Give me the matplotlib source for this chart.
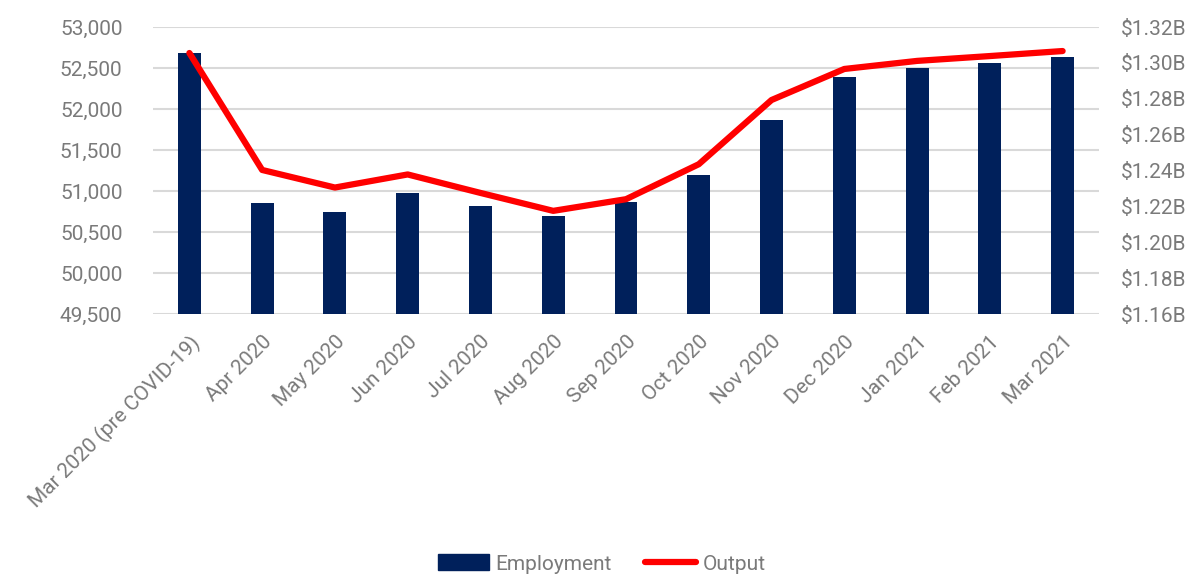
import matplotlib
matplotlib.use("Agg")
import matplotlib.pyplot as plt
from matplotlib.ticker import FuncFormatter, MultipleLocator
from matplotlib.patches import Patch
from matplotlib.lines import Line2D

categories = ["Mar 2020 (pre COVID-19)", "Apr 2020", "May 2020", "Jun 2020", "Jul 2020",
              "Aug 2020", "Sep 2020", "Oct 2020", "Nov 2020", "Dec 2020",
              "Jan 2021", "Feb 2021", "Mar 2021"]
employment = [52680, 50850, 50740, 50970, 50820, 50690, 50860, 51200, 51860, 52390, 52500, 52560, 52640]
output_b = [1.3055, 1.2403, 1.2305, 1.2378, 1.2275, 1.2175, 1.2240, 1.2435, 1.2793, 1.2966, 1.3011, 1.3038, 1.3066]

plt.rcParams['font.family'] = ['Roboto', 'DejaVu Sans']
text_color = "#7a7a7a"
navy = "#00205b"
red = "#ff0000"
grid_c = "#d9d9d9"
fs = 15

fig = plt.figure(figsize=(11.92, 5.76), dpi=100)
ax = fig.add_axes([153/1192, 1 - 314/576, (1099 - 153)/1192, (314 - 27)/576])
x = list(range(len(categories)))
ax.bar(x, employment, width=0.315, color=navy, zorder=2)
ax.set_ylim(49500, 53000)
ax.set_xlim(-0.5, len(categories) - 0.5)
ax.yaxis.set_major_locator(MultipleLocator(500))
ax.yaxis.set_major_formatter(FuncFormatter(lambda v, p: f"{v:,.0f}"))
ax.grid(axis='y', color=grid_c, linewidth=1.5, zorder=0)
ax.set_axisbelow(True)
for s in ax.spines.values():
    s.set_visible(False)
ax.tick_params(axis='both', length=0, labelsize=fs, labelcolor=text_color)
ax.tick_params(axis='y', pad=22)
ax.tick_params(axis='x', pad=13)
ax.set_xticks(x)
ax.set_xticklabels(categories, rotation=45, ha='right', rotation_mode='anchor')

ax2 = ax.twinx()
ax2.plot(x, output_b, color=red, linewidth=4.5, solid_capstyle='round', zorder=3)
ax2.set_ylim(1.16, 1.32)
ax2.yaxis.set_major_locator(MultipleLocator(0.02))
ax2.yaxis.set_major_formatter(FuncFormatter(lambda v, p: f"${v:.2f}B"))
for s in ax2.spines.values():
    s.set_visible(False)
ax2.tick_params(axis='y', length=0, labelsize=fs, labelcolor=text_color, pad=16)

handles = [Patch(facecolor=navy, edgecolor=navy), Line2D([0], [0], color=red, linewidth=4.5, solid_capstyle='round')]
leg = fig.legend(handles, ["Employment", "Output"], loc='center', bbox_to_anchor=(0.505, 1 - 564/576),
                 ncol=2, frameon=False, handlelength=2.45, handleheight=0.8,
                 columnspacing=1.6, handletextpad=0.33, labelcolor=text_color,
                 prop={'size': fs})
fig.savefig("out.png", dpi=100)
